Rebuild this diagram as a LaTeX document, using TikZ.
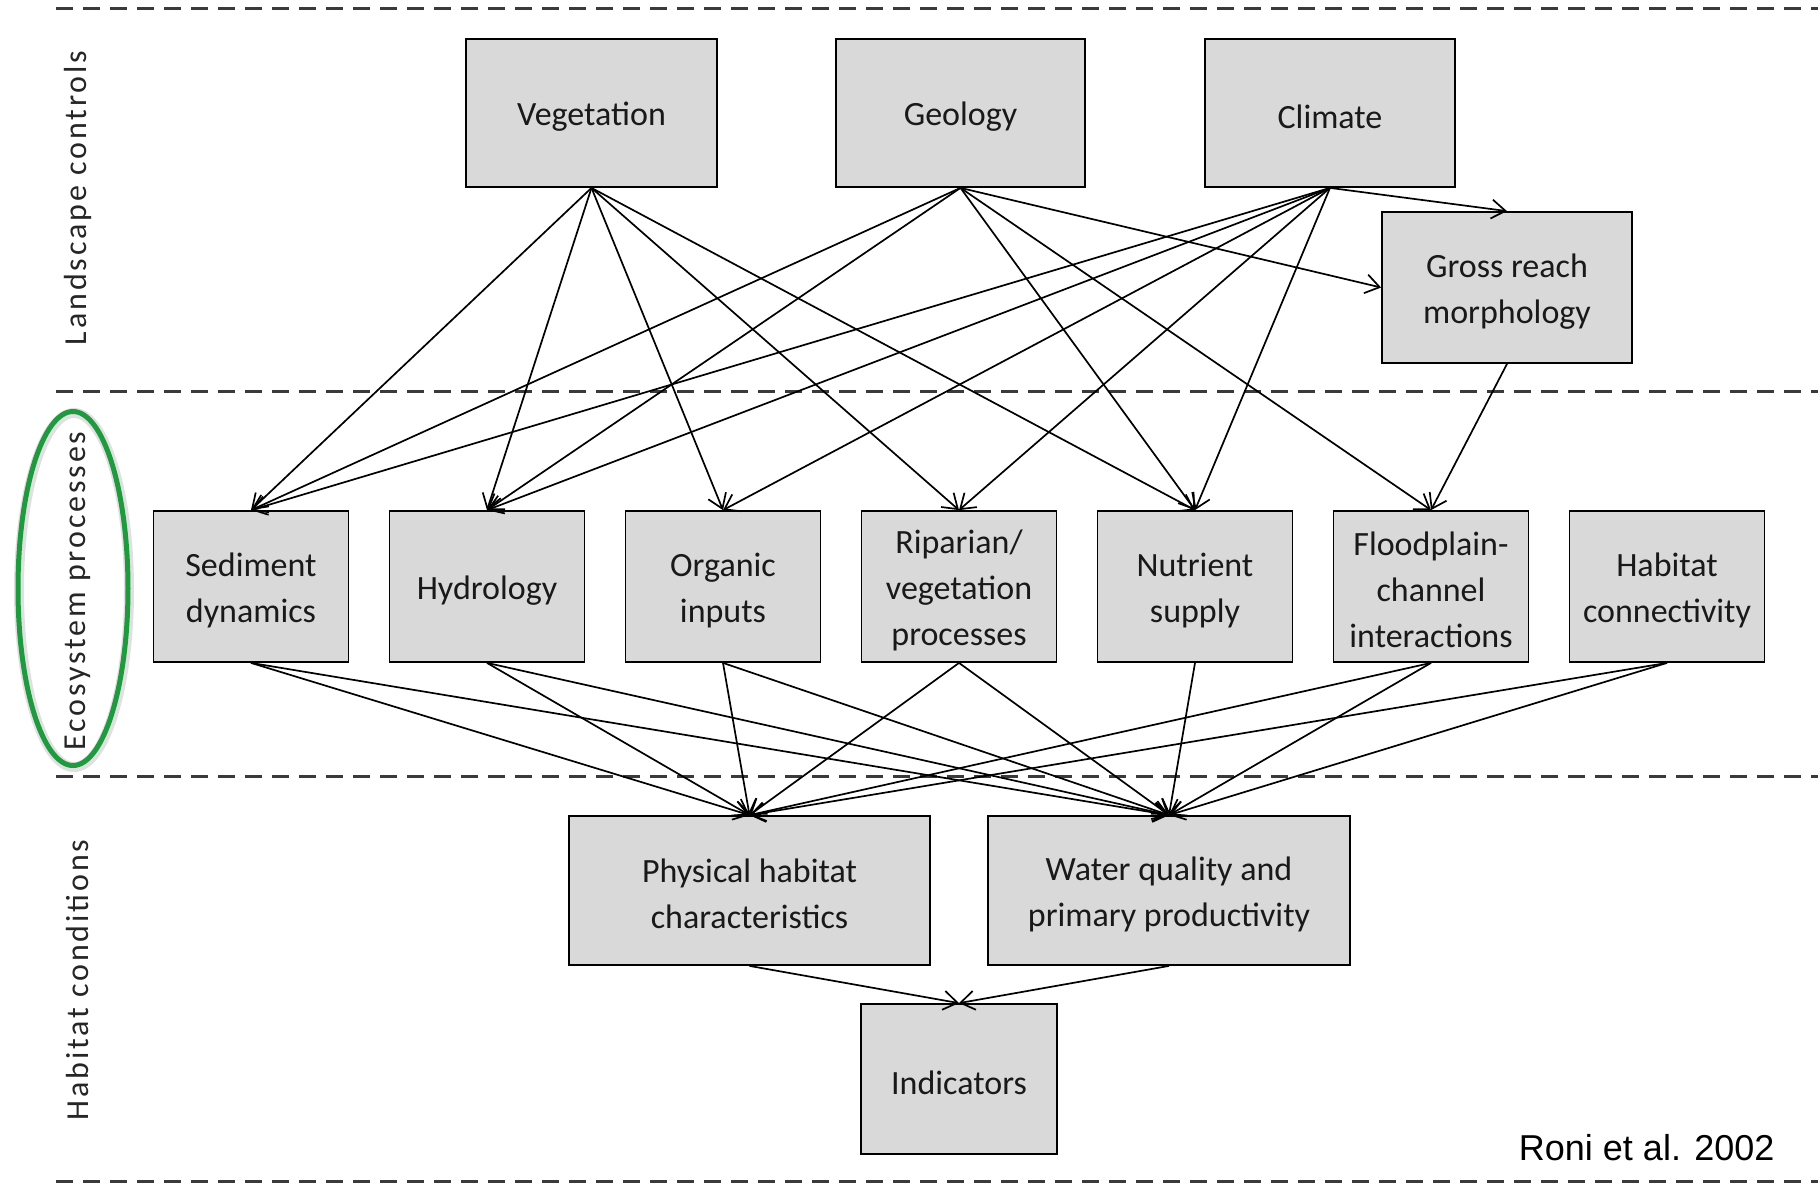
\documentclass[tikz,border=0pt]{standalone}
\usepackage{fontspec}
\setmainfont{Carlito}
\newfontfamily\arialfont{Liberation Sans}
\newfontfamily\sidefont[LetterSpace=9]{Carlito}
\usetikzlibrary{arrows.meta}
\definecolor{boxfill}{HTML}{D9D9D9}
\definecolor{ovalgreen}{HTML}{1F9A3F}
\definecolor{dashgray}{HTML}{3A3A3A}
\newcommand\toprule{\rule{0pt}{31pt}}
\tikzset{
  box/.style={draw=black, line width=1.8pt, fill=boxfill, align=center, inner sep=0pt,
    font=\fontsize{34}{46}\selectfont, text=black!90},
  ecobox/.style={box, minimum width=195pt, minimum height=151pt},
  link/.style={line width=1.7pt, -{Straight Barb[length=14pt,width=19pt,line width=1.7pt]}},
  sepline/.style={dashgray, line width=3pt, dash pattern=on 17pt off 10pt},
  side/.style={rotate=90, font=\sidefont\fontsize{32}{38}\selectfont, text=black!85},
}
\begin{document}
\begin{tikzpicture}[x=1pt,y=-1pt]
\useasboundingbox (0,0) rectangle (1818,1184);
% separators
\draw[sepline] (56,8) -- (1818,8);
\draw[sepline] (56,391) -- (1818,391);
\draw[sepline] (56,776) -- (1818,776);
\draw[sepline] (56,1181) -- (1818,1181);
% landscape controls
\node[box, minimum width=251pt, minimum height=148pt] (veg) at (591.5,113) {\toprule Vegetation};
\node[box, minimum width=249pt, minimum height=148pt] (geo) at (960.5,113) {\toprule Geology};
\node[box, minimum width=250pt, minimum height=148pt] (clim) at (1330,113) {\toprule Climate};
\node[box, minimum width=250pt, minimum height=151pt] (gross) at (1507,287.5) {\toprule Gross reach\\morphology};
% ecosystem processes
\node[ecobox] (sed) at (251,586.5) {\toprule Sediment\\dynamics};
\node[ecobox] (hyd) at (487,586.5) {\toprule Hydrology};
\node[ecobox] (org) at (723,586.5) {\toprule Organic\\inputs};
\node[ecobox] (rip) at (959,586.5) {\toprule Riparian/\\vegetation\\processes};
\node[ecobox] (nut) at (1195,586.5) {\toprule Nutrient\\supply};
\node[ecobox] (flood) at (1431,586.5) {\toprule Floodplain-\\channel\\interactions};
\node[ecobox] (hab) at (1667,586.5) {\toprule Habitat\\connectivity};
% habitat conditions
\node[box, minimum width=361pt, minimum height=149pt] (phys) at (749.5,890.5) {\toprule Physical habitat\\characteristics};
\node[box, minimum width=362pt, minimum height=149pt] (water) at (1169,890.5) {\toprule Water quality and\\primary productivity};
\node[box, minimum width=196pt, minimum height=150pt] (ind) at (959,1079) {\toprule Indicators};
% side labels
\draw[black!12, line width=10pt] (74,590) ellipse [x radius=55pt, y radius=177pt];
\draw[ovalgreen, line width=5pt] (73,588.5) ellipse [x radius=55pt, y radius=177pt];
\node[side] (lc) at (78,198) {Landscape controls};
\node[side] (ep) at (78,591) {Ecosystem processes};
\node[side] (hc) at (78,980) {Habitat conditions};
\node[font=\arialfont\fontsize{36}{40}\selectfont, anchor=base east] (roni) at (1778,1160) {Roni et al. 2002};
% links
\foreach \t in {sed,hyd,org,rip,nut} \draw[link] (veg.south) -- (\t.north);
\foreach \t in {sed,hyd,nut,flood} \draw[link] (geo.south) -- (\t.north);
\draw[link] (geo.south) -- (gross.west);
\foreach \t in {sed,hyd,org,rip,nut} \draw[link] (clim.south) -- (\t.north);
\draw[link] (clim.south) -- (gross.north);
\draw[link] (gross.south) -- (flood.north);
\foreach \s in {sed,hyd,org,rip,flood,hab} \draw[link] (\s.south) -- (phys.north);
\foreach \s in {sed,hyd,org,rip,nut,flood,hab} \draw[link] (\s.south) -- (water.north);
\draw[link] (phys.south) -- (ind.north);
\draw[link] (water.south) -- (ind.north);
\end{tikzpicture}
\end{document}
